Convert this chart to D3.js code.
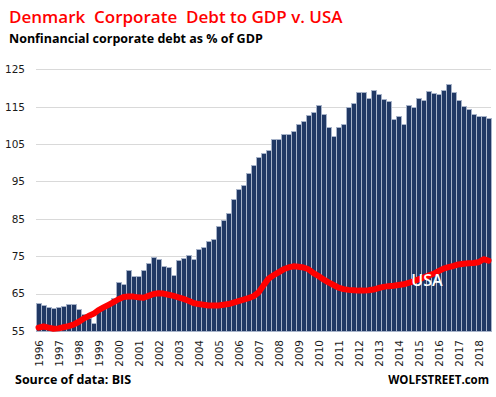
<!DOCTYPE html>
<html>
<head>
<meta charset="utf-8">
<script src="https://cdn.jsdelivr.net/npm/d3@7"></script>
<style>
    body { margin: 0; background: #fff; }
    #chart { width: 496px; height: 397px; }
    .tick text { font-family: "DejaVu Sans", sans-serif; font-size: 10.5px; fill: #1a1a1a; }
</style>
</head>
<body>
<div id="chart"></div>
<script>
// year labels on the x axis (one label per year, on its first quarter)
const years = ["1996", "1997", "1998", "1999", "2000", "2001", "2002", "2003", "2004", "2005", "2006", "2007",
    "2008", "2009", "2010", "2011", "2012", "2013", "2014", "2015", "2016", "2017", "2018"];

// y axis tick values
const yTicks = [55, 65, 75, 85, 95, 105, 115, 125];

// Denmark nonfinancial corporate debt, % of GDP, quarterly 1996 Q1 - 2018 Q3
const denmark = [62.5, 61.9, 61.4, 61.1, 61.3, 61.6, 62.1, 62.1, 60.8, 59.6, 58.5, 57.1,
    60.4, 61.6, 62.6, 63.8, 68.0, 67.5, 71.2, 69.6, 69.8, 71.4, 73.1, 74.9,
    74.2, 72.5, 72.0, 70.1, 73.9, 74.6, 75.4, 74.2, 77.0, 77.6, 79.0, 79.7,
    83.2, 84.8, 86.5, 90.3, 93.1, 94.0, 97.2, 99.5, 101.5, 102.6, 103.4, 106.3,
    106.3, 107.6, 107.6, 108.4, 110.3, 111.1, 112.7, 113.5, 115.4, 113.0, 109.5, 107.1,
    109.5, 110.3, 114.9, 116.0, 118.9, 118.9, 117.3, 119.4, 118.4, 117.0, 116.4, 111.6,
    112.4, 110.3, 115.4, 114.9, 117.3, 116.8, 119.2, 118.7, 118.4, 119.4, 121.0, 118.9,
    116.8, 115.1, 114.3, 113.0, 112.4, 112.4, 111.9];

// USA nonfinancial corporate debt, % of GDP, same quarters
const usa = [55.9, 56.2, 55.9, 55.6, 55.7, 56.0, 56.3, 56.7, 57.4, 58.3, 59.0, 59.6,
    60.6, 61.3, 62.0, 62.7, 63.5, 64.1, 64.2, 64.2, 64.0, 63.9, 64.4, 64.9,
    65.1, 65.0, 64.7, 64.4, 64.0, 63.6, 63.1, 62.5, 62.2, 62.0, 61.8, 61.8,
    61.8, 62.0, 62.2, 62.6, 63.0, 63.4, 63.8, 64.3, 65.3, 67.2, 69.0, 69.9,
    70.7, 71.5, 72.0, 72.3, 72.2, 72.0, 71.5, 70.5, 69.7, 68.8, 68.0, 67.3,
    66.6, 66.2, 66.0, 65.9, 65.8, 65.8, 65.9, 66.1, 66.5, 66.8, 67.0, 67.1,
    67.3, 67.5, 67.9, 68.3, 68.8, 69.3, 69.8, 70.3, 71.0, 71.7, 72.1, 72.4,
    72.8, 73.0, 73.1, 73.2, 73.4, 74.2, 73.8];

// quarter categories built from the years
const quarters = years.flatMap(y => ["Q1", "Q2", "Q3", "Q4"].map(q => y + q)).slice(0, denmark.length);

const width = 496;
const height = 397;
const margin = { top: 69, left: 36, right: 5, bottom: 66 };

const svg = d3.select("#chart")
    .append("svg")
    .attr("width", width)
    .attr("height", height);

//scales
const xScale = d3.scaleBand()
    .domain(quarters)
    .range([margin.left, width - margin.right])
    .padding(0);

const yScale = d3.scaleLinear()
    .domain([55, 125])
    .range([331, 69.3]);

//titles
svg.append("text")
    .attr("x", 9)
    .attr("y", 23)
    .attr("fill", "#ff0000")
    .style("font-family", "'Open Sans', sans-serif")
    .style("font-weight", 600)
    .style("font-size", "17px")
    .style("white-space", "pre")
    .text("Denmark  Corporate  Debt to GDP v. USA");

svg.append("text")
    .attr("x", 9)
    .attr("y", 43)
    .attr("fill", "#000")
    .style("font-family", "'Open Sans', sans-serif")
    .style("font-weight", 700)
    .style("font-size", "12.5px")
    .text("Nonfinancial corporate debt as % of GDP");

//gridlines
svg.append("g")
    .selectAll("line")
    .data(yTicks)
    .enter()
    .append("line")
    .attr("x1", margin.left)
    .attr("x2", width - margin.right)
    .attr("y1", d => Math.round(yScale(d)) + 0.5)
    .attr("y2", d => Math.round(yScale(d)) + 0.5)
    .attr("stroke", "#d9d9d9")
    .attr("stroke-width", 1);

//y axis labels
const yAxis = svg.append("g")
    .attr("transform", `translate(${margin.left},0)`)
    .call(d3.axisLeft(yScale).tickValues(yTicks).tickSize(0).tickPadding(11));
yAxis.select(".domain").remove();

//bars
svg.append("g")
    .selectAll("rect")
    .data(denmark)
    .enter()
    .append("rect")
    .attr("x", (d, i) => xScale(quarters[i]) + 0.5)
    .attr("y", d => Math.round(yScale(d)) + 0.5)
    .attr("width", xScale.bandwidth())
    .attr("height", d => yScale(55) - Math.round(yScale(d)))
    .attr("fill", "#203864")
    .attr("stroke", "#a7b3c9")
    .attr("stroke-width", 1);

//usa line
const line = d3.line()
    .x((d, i) => xScale(quarters[i]) + xScale.bandwidth() / 2)
    .y(d => yScale(d));

svg.append("path")
    .datum(usa)
    .attr("d", line)
    .attr("fill", "none")
    .attr("stroke", "#ff0000")
    .attr("stroke-width", 6)
    .attr("stroke-linejoin", "round")
    .attr("stroke-linecap", "round");

svg.append("text")
    .attr("x", 427)
    .attr("y", 286)
    .attr("text-anchor", "middle")
    .attr("fill", "#fff")
    .style("font-family", "'Open Sans', sans-serif")
    .style("font-weight", 600)
    .style("font-size", "16px")
    .text("USA");

//x axis labels, rotated
svg.append("g")
    .selectAll("text")
    .data(years)
    .enter()
    .append("text")
    .attr("class", "xLabel")
    .attr("transform", (d, i) => `translate(${xScale(quarters[i * 4]) + xScale.bandwidth() / 2 + 1.3},340) rotate(-90)`)
    .attr("dy", "0.35em")
    .attr("text-anchor", "end")
    .attr("fill", "#1a1a1a")
    .style("font-family", "'DejaVu Sans', sans-serif")
    .style("font-size", "10.5px")
    .text(d => d);

//footer
svg.append("text")
    .attr("x", 15)
    .attr("y", 384)
    .attr("fill", "#000")
    .style("font-family", "'Open Sans', sans-serif")
    .style("font-weight", 700)
    .style("font-size", "12.5px")
    .text("Source of data: BIS");

svg.append("text")
    .attr("x", 489)
    .attr("y", 384)
    .attr("text-anchor", "end")
    .attr("fill", "#000")
    .style("font-family", "'Open Sans', sans-serif")
    .style("font-weight", 700)
    .style("font-size", "11.5px")
    .text("WOLFSTREET.com");
</script>
</body>
</html>
